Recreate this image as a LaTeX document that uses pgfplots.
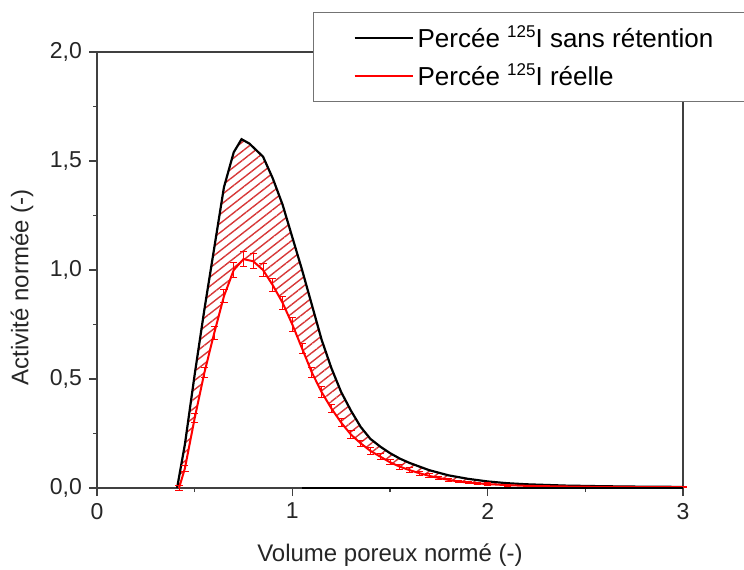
\documentclass[border=0pt]{standalone}
\usepackage{fontspec}
\setmainfont{Liberation Sans}
\usepackage{pgfplots}
\usepackage{pgfplotstable}
\pgfplotsset{compat=1.18}
\usepgfplotslibrary{fillbetween}
\usetikzlibrary{patterns.meta}
\definecolor{hatch}{RGB}{215,55,55}
\newcommand{\isosup}[1]{\raisebox{0.75ex}{\fontsize{8.5}{9}\selectfont #1}}

\pgfplotstableread{
x y
0.41 0
0.45 0.20
0.50 0.52
0.55 0.82
0.60 1.10
0.65 1.38
0.70 1.54
0.74 1.60
0.78 1.58
0.85 1.52
0.90 1.42
0.95 1.30
1.00 1.15
1.05 1.00
1.10 0.84
1.15 0.68
1.20 0.55
1.25 0.44
1.30 0.355
1.35 0.28
1.40 0.225
1.45 0.19
1.50 0.16
1.55 0.135
1.60 0.115
1.70 0.082
1.80 0.058
1.90 0.042
2.00 0.030
2.10 0.022
2.20 0.017
2.40 0.011
2.60 0.008
2.80 0.006
3.00 0.005
}\blackdata

\pgfplotstableread{
x y e
0.42 0 0.01
0.45 0.09 0.015
0.50 0.32 0.02
0.55 0.53 0.025
0.60 0.71 0.03
0.65 0.88 0.03
0.70 1.00 0.035
0.75 1.05 0.035
0.80 1.04 0.035
0.85 1.00 0.03
0.90 0.93 0.03
0.95 0.85 0.03
1.00 0.75 0.03
1.05 0.64 0.025
1.10 0.53 0.025
1.15 0.44 0.025
1.20 0.365 0.02
1.25 0.30 0.02
1.30 0.245 0.02
1.35 0.205 0.015
1.40 0.17 0.015
1.45 0.144 0.015
1.50 0.118 0.012
1.55 0.098 0.012
1.60 0.082 0.01
1.65 0.068 0.01
1.70 0.056 0.01
1.75 0.046 0.008
1.80 0.037 0.008
1.85 0.030 0.006
1.90 0.025 0.006
1.95 0.021 0.005
2.00 0.018 0.005
2.10 0.013 0.004
2.20 0.010 0.003
2.30 0.008 0.003
2.40 0.007 0.002
2.50 0.006 0.002
2.60 0.005 0.002
2.70 0.005 0.002
2.80 0.004 0.002
2.90 0.004 0.002
3.00 0.004 0.002
}\reddata

\begin{document}
\begin{tikzpicture}
\begin{axis}[
  at={(0pt,0pt)}, anchor=south west,
  scale only axis, width=293pt, height=218pt,
  xmin=0, xmax=3, ymin=0, ymax=2,
  xtick={0,1,2,3}, ytick={0,0.5,1,1.5,2},
  minor x tick num=1, minor y tick num=1,
  xtick pos=left, ytick pos=left,
  tick align=outside,
  major tick length=4pt, minor tick length=2pt,
  axis line style={black!75, line width=0.6pt},
  every tick/.style={black!75, line width=0.6pt},
  yticklabel style={/pgf/number format/.cd, use comma, fixed, fixed zerofill, precision=1},
  /pgf/number format/assume math mode=true,
  tick label style={font=\fontsize{11.5}{13}\selectfont, text=black!85},
  xlabel={Volume poreux normé (-)},
  ylabel={Activité normée (-)},
  label style={font=\fontsize{12}{14}\selectfont, text=black!85},
  xlabel style={at={(axis description cs:0.5,-0.154)}, anchor=center},
  ylabel style={at={(axis description cs:-0.128,0.46)}, anchor=center},
  legend style={at={(rel axis cs:0.3686,1.0917)}, anchor=north west,
    draw=black!55, fill=white, inner xsep=20pt, inner ysep=4.5pt,
    font=\fontsize{13}{15}\selectfont, row sep=2.5pt},
  legend cell align=left,
  legend image code/.code={\draw[#1] (0pt,0pt) -- (29pt,0pt);},
  clip=false,
]
\addplot[black, line width=1.1pt, name path=B] table[x=x,y=y] {\blackdata};
\addlegendentry{Percée \isosup{125}I sans rétention}
\addplot[red, line width=1pt, name path=R,
  error bars/.cd, y dir=both, y explicit,
  error bar style={red, line width=0.5pt},
  error mark options={red, rotate=90, mark size=1.8pt, line width=0.5pt}]
  table[x=x,y=y,y error=e] {\reddata};
\addlegendentry{Percée \isosup{125}I réelle}
\addplot[draw=none, pattern={Lines[angle=38,distance=3.6pt,line width=0.7pt]}, pattern color=hatch, forget plot]
  fill between[of=B and R];
\addplot[black, line width=1pt, forget plot] coordinates {(1.05,0) (3,0)};
\end{axis}
\pgfresetboundingbox
\path (-48.5pt,-40.5pt) rectangle (323.5pt,244pt);
\end{tikzpicture}
\end{document}
